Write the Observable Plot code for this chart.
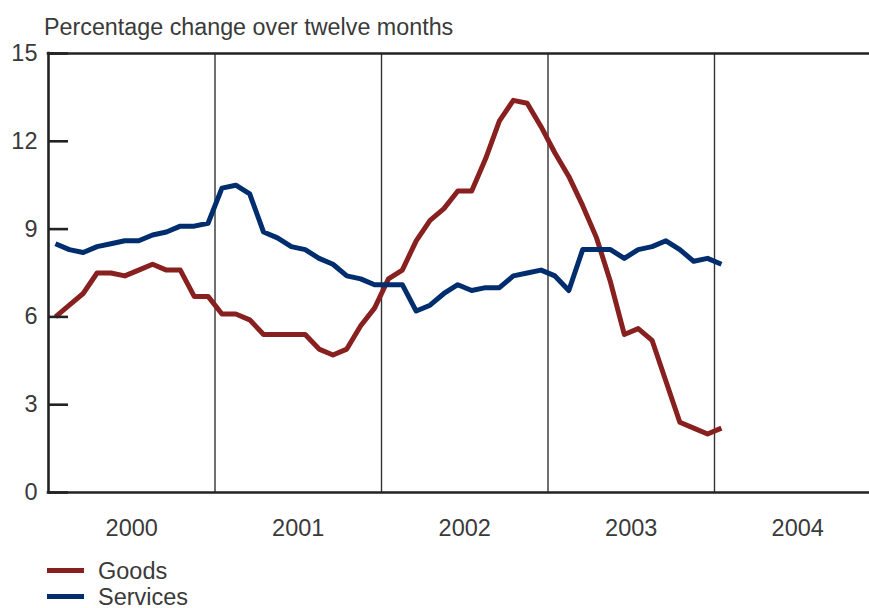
<!DOCTYPE html>
<html><head><meta charset="utf-8">
<script src="https://cdn.jsdelivr.net/npm/d3@7"></script>
<script src="https://cdn.jsdelivr.net/npm/@observablehq/plot@0.6"></script>
<style>
body{margin:0;background:#fff;font-family:"Liberation Sans",Arial,sans-serif;color:#3a3a3a;}
#wrap{position:relative;width:869px;height:608px;overflow:hidden;}
#title{position:absolute;left:44px;top:16px;font-size:23.3px;line-height:23.5px;white-space:nowrap;}
#chart{position:absolute;left:0;top:0;}
.sw{position:absolute;left:47px;width:37px;height:5px;}
.lt{position:absolute;left:98px;font-size:23.5px;line-height:23.5px;white-space:nowrap;}
</style></head><body>
<div id="wrap"><div id="chart"></div><div id="title"></div><div id="legend"></div></div>
<script>
const titleText = "Percentage change over twelve months";
const startYear = 2000;
const yearLabels = [2000, 2001, 2002, 2003, 2004];
const yearBreaks = [2001, 2002, 2003, 2004];
const yTicks = [0, 3, 6, 9, 12, 15];
const seriesNames = ["Goods", "Services"];
const seriesColors = ["#87201f", "#002d6e"];
// monthly values, Jan 2000 .. Jan 2004
const goods = [6.0, 6.4, 6.8, 7.5, 7.5, 7.4, 7.6, 7.8, 7.6, 7.6, 6.7, 6.7,
  6.1, 6.1, 5.9, 5.4, 5.4, 5.4, 5.4, 4.9, 4.7, 4.9, 5.7, 6.3,
  7.3, 7.6, 8.6, 9.3, 9.7, 10.3, 10.3, 11.4, 12.7, 13.4, 13.3, 12.5,
  11.6, 10.8, 9.8, 8.7, 7.2, 5.4, 5.6, 5.2, 3.8, 2.4, 2.2, 2.0,
  2.2];
const services = [8.5, 8.3, 8.2, 8.4, 8.5, 8.6, 8.6, 8.8, 8.9, 9.1, 9.1, 9.2,
  10.4, 10.5, 10.2, 8.9, 8.7, 8.4, 8.3, 8.0, 7.8, 7.4, 7.3, 7.1,
  7.1, 7.1, 6.2, 6.4, 6.8, 7.1, 6.9, 7.0, 7.0, 7.4, 7.5, 7.6,
  7.4, 6.9, 8.3, 8.3, 8.3, 8.0, 8.3, 8.4, 8.6, 8.3, 7.9, 8.0,
  7.8];

const rows = [];
[goods, services].forEach((arr, k) => arr.forEach((v, i) => rows.push({t: startYear + (i + 0.5) / 12, v, s: seriesNames[k]})));

const W = 869, ML = 48, tickLen = 20;
const font = "'Liberation Sans', Arial, sans-serif";
const chart = Plot.plot({
  width: W, height: 545,
  marginTop: 53, marginBottom: 53, marginLeft: ML, marginRight: 0,
  x: {domain: [2000, 2005], range: [48, 880.5], axis: null},
  y: {domain: [0, 15], axis: null},
  color: {domain: seriesNames, range: seriesColors},
  style: {fontFamily: font, fontSize: "23.5px", color: "#3a3a3a", background: "transparent", overflow: "visible"},
  marks: [
    Plot.ruleX(yearBreaks, {stroke: "#333", strokeWidth: 1.4}),
    Plot.line(rows, {x: "t", y: "v", z: "s", stroke: "s", strokeWidth: 5, strokeLinejoin: "round", strokeLinecap: "butt"}),
    Plot.ruleY([15], {stroke: "#222", strokeWidth: 2.6, strokeLinecap: "square"}),
    Plot.ruleY([0], {stroke: "#222", strokeWidth: 2.6, strokeLinecap: "square"}),
    Plot.ruleX([2000], {stroke: "#222", strokeWidth: 2.6, strokeLinecap: "square"}),
    Plot.tickY(yTicks, {y: d => d, insetRight: W - ML - tickLen, stroke: "#222", strokeWidth: 2.6}),
    Plot.axisY({ticks: yTicks, tickSize: 0, tickPadding: 11, fill: "#3a3a3a", fontSize: 23.5, label: null}),
    Plot.axisX({ticks: yearLabels.map(y => y + 0.5), tickFormat: d => String(Math.floor(d)), tickSize: 0, tickPadding: 27, fill: "#3a3a3a", fontSize: 23.5, label: null})
  ]
});
document.getElementById("chart").appendChild(chart);
document.getElementById("title").textContent = titleText;

const leg = document.getElementById("legend");
seriesNames.forEach((name, k) => {
  const sw = document.createElement("div");
  sw.className = "sw";
  sw.style.top = (567.5 + k * 26) + "px";
  sw.style.background = seriesColors[k];
  const lt = document.createElement("div");
  lt.className = "lt";
  lt.style.top = (559.5 + k * 26) + "px";
  lt.textContent = name;
  leg.appendChild(sw); leg.appendChild(lt);
});
</script>
</body></html>
